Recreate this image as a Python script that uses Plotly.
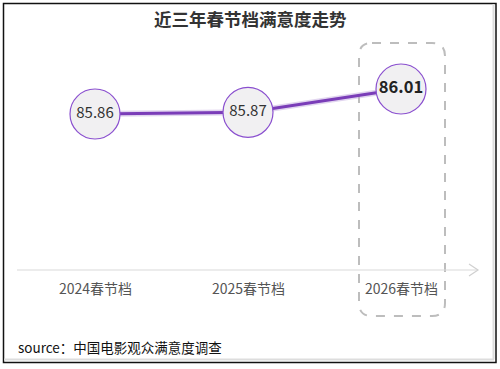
import plotly.graph_objects as go

categories = ["2024春节档", "2025春节档", "2026春节档"]
scores = [85.86, 85.87, 86.01]
labels = ["85.86", "85.87", "86.01"]
title_text = "近三年春节档满意度走势"
source_text = "source：中国电影观众满意度调查"

W, H = 500, 369
xi = list(range(len(categories)))

def px(x):
    return x / W

def py(y):
    return 1 - y / H

fig = go.Figure()
# soft glow under the line
fig.add_trace(go.Scatter(x=xi, y=scores, mode="lines",
                         line=dict(color="rgba(180,150,215,0.4)", width=6),
                         hoverinfo="skip", showlegend=False))
fig.add_trace(go.Scatter(x=xi, y=scores, mode="lines",
                         line=dict(color="#7A3DB8", width=3),
                         hoverinfo="skip", showlegend=False))
fig.add_trace(go.Scatter(
    x=xi, y=scores, mode="markers+text",
    marker=dict(size=50, color="#F1F0F2", line=dict(color="#8A4FCF", width=1.2)),
    text=[labels[0], labels[1], "<b>" + labels[2] + "</b>"],
    textposition="middle center",
    textfont=dict(family="Noto Sans CJK SC, Noto Sans, sans-serif",
                  size=[15, 15, 16.5], color=["#333", "#333", "#222"]),
    hoverinfo="skip", showlegend=False))

# tick labels
for i, c in enumerate(categories):
    fig.add_annotation(x=i, y=py(288), xref="x", yref="paper", text=c,
                       showarrow=False, yanchor="middle",
                       font=dict(family="Noto Sans CJK SC, sans-serif", size=14, color="#555"))

shapes = []
# outer border
shapes.append(dict(type="rect", xref="paper", yref="paper",
                   x0=px(3.5), x1=px(496), y0=py(362.5), y1=py(3.5),
                   line=dict(color="#111", width=1.5)))
shapes.append(dict(type="line", xref="paper", yref="paper",
                   x0=px(4), x1=px(494), y0=py(359.5), y1=py(359.5),
                   line=dict(color="#ddd", width=2)))
shapes.append(dict(type="line", xref="paper", yref="paper",
                   x0=px(493.5), x1=px(493.5), y0=py(359.5), y1=py(4),
                   line=dict(color="#ddd", width=2)))
# axis line
shapes.append(dict(type="line", xref="paper", yref="paper",
                   x0=px(17), x1=px(478), y0=py(270), y1=py(270),
                   line=dict(color="#d9d9d9", width=1.2)))
shapes.append(dict(type="path", xref="paper", yref="paper",
                   path=f"M {px(469)},{py(264)} L {px(478)},{py(270)} L {px(469)},{py(276)}",
                   line=dict(color="#d0d0d0", width=1.2)))
# dashed rounded rect
x0, x1, y0, y1, r = 359, 445, 43, 316, 13
d = (f"M {px(x0+r)},{py(y0)} L {px(x1-r)},{py(y0)} Q {px(x1)},{py(y0)} {px(x1)},{py(y0+r)} "
     f"L {px(x1)},{py(y1-r)} Q {px(x1)},{py(y1)} {px(x1-r)},{py(y1)} "
     f"L {px(x0+r)},{py(y1)} Q {px(x0)},{py(y1)} {px(x0)},{py(y1-r)} "
     f"L {px(x0)},{py(y0+r)} Q {px(x0)},{py(y0)} {px(x0+r)},{py(y0)} Z")
shapes.append(dict(type="path", xref="paper", yref="paper", path=d,
                   line=dict(color="#bdbdbd", width=2, dash="dash"), layer="below"))

fig.add_annotation(x=0.5, y=py(19), xref="paper", yref="paper", text="<b>" + title_text + "</b>",
                   showarrow=False, yanchor="middle",
                   font=dict(family="Noto Sans CJK SC, sans-serif", size=17.5, color="#333"))
fig.add_annotation(x=px(16), y=py(347), xref="paper", yref="paper", text=source_text,
                   showarrow=False, xanchor="left", yanchor="middle",
                   font=dict(family="Noto Sans CJK SC, sans-serif", size=13.5, color="#111"))

# axis ranges mapping: idx0->95px, idx2->401px ; 85.86->114px, 86.01->89px
ux = (401 - 95) / 2
xr = [0 - 95 / ux, 2 + (W - 401) / ux]
uy = (114 - 89) / (86.01 - 85.86)
yr = [85.86 - (H - 114) / uy, 86.01 + 89 / uy]

fig.update_layout(
    width=W, height=H, margin=dict(l=0, r=0, t=0, b=0),
    paper_bgcolor="white", plot_bgcolor="white",
    xaxis=dict(range=xr, visible=False, fixedrange=True),
    yaxis=dict(range=yr, visible=False, fixedrange=True),
    shapes=shapes, showlegend=False,
)
fig.write_html("out.html", config={"displayModeBar": False},
               post_script="document.body.style.margin='0';document.body.style.overflow='hidden';")
